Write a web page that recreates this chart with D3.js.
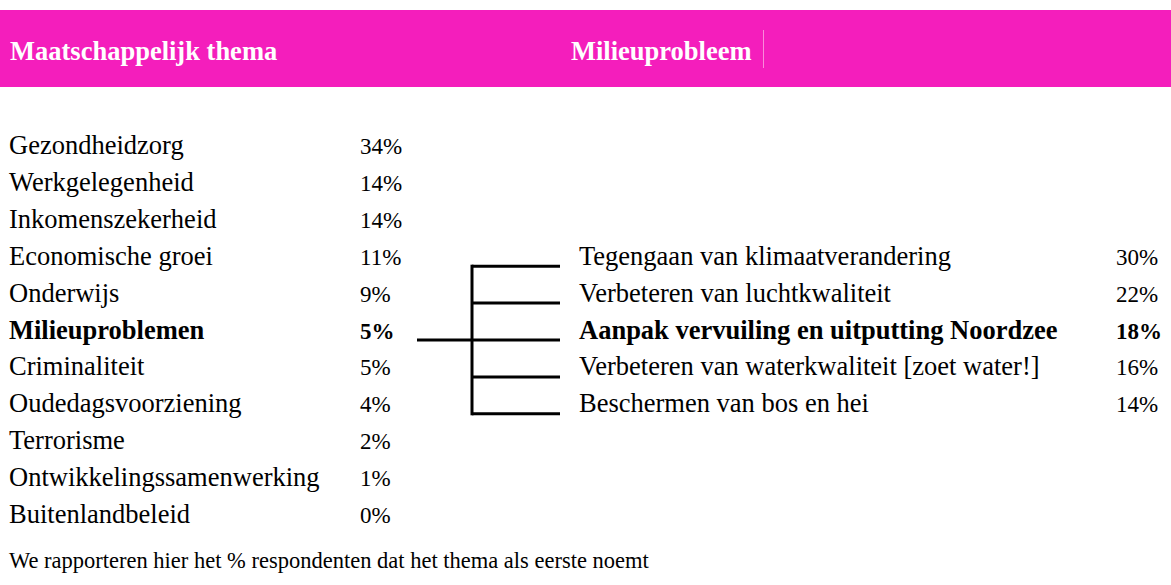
<!DOCTYPE html>
<html>
<head>
<meta charset="utf-8">
<script src="https://cdn.jsdelivr.net/npm/d3@7"></script>
<style>
  body { margin: 0; background: #fff; }
  text { font-family: "Liberation Serif", "Times New Roman", serif; }
</style>
</head>
<body>
<div id="chart"></div>
<script>
const width = 1171, height = 585;

// maatschappelijke thema's (linkerkolom)
const themes = ["Gezondheidzorg", "Werkgelegenheid", "Inkomenszekerheid", "Economische groei",
    "Onderwijs", "Milieuproblemen", "Criminaliteit", "Oudedagsvoorziening", "Terrorisme",
    "Ontwikkelingssamenwerking", "Buitenlandbeleid"];
const themeValues = [34, 14, 14, 11, 9, 5, 5, 4, 2, 1, 0];
const highlightTheme = "Milieuproblemen";

// milieuproblemen (rechterkolom)
const issues = ["Tegengaan van klimaatverandering", "Verbeteren van luchtkwaliteit",
    "Aanpak vervuiling en uitputting Noordzee", "Verbeteren van waterkwaliteit [zoet water!]",
    "Beschermen van bos en hei"];
const issueValues = [30, 22, 18, 16, 14];
const highlightIssue = "Aanpak vervuiling en uitputting Noordzee";

const headers = ["Maatschappelijk thema", "Milieuprobleem"];
const footnote = "We rapporteren hier het % respondenten dat het thema als eerste noemt";

const svg = d3.select("#chart").append("svg")
    .attr("width", width)
    .attr("height", height);

// header band
svg.append("rect")
    .attr("x", 0).attr("y", 10)
    .attr("width", width).attr("height", 77)
    .attr("fill", "#f41ebc");

svg.append("line")
    .attr("x1", 763.5).attr("x2", 763.5)
    .attr("y1", 30).attr("y2", 68)
    .attr("stroke", "#fa8ada").attr("stroke-width", 1);

svg.selectAll(".hdr")
    .data(headers)
    .join("text")
    .attr("class", "hdr")
    .attr("x", (d, i) => i === 0 ? 10 : 571)
    .attr("y", 60)
    .attr("fill", "#fff")
    .attr("font-weight", "bold")
    .attr("font-size", 26.5)
    .text(d => d);

// row baselines
const y = d3.scalePoint()
    .domain(d3.range(themes.length))
    .range([154, 523]);

const labelSize = 26.5;
const valueSize = 23;

const left = svg.append("g");
left.selectAll(".lab")
    .data(themes)
    .join("text")
    .attr("x", 9)
    .attr("y", (d, i) => y(i))
    .attr("font-size", labelSize)
    .attr("font-weight", d => d === highlightTheme ? "bold" : "normal")
    .text(d => d);

left.selectAll(".val")
    .data(themeValues)
    .join("text")
    .attr("x", 360)
    .attr("y", (d, i) => y(i))
    .attr("font-size", valueSize)
    .attr("font-weight", (d, i) => themes[i] === highlightTheme ? "bold" : "normal")
    .text(d => d + "%");

// right column sits on rows 4..8 of the left grid
const offset = 3;
const right = svg.append("g");
right.selectAll(".lab")
    .data(issues)
    .join("text")
    .attr("x", 579)
    .attr("y", (d, i) => y(i + offset))
    .attr("font-size", labelSize)
    .attr("font-weight", d => d === highlightIssue ? "bold" : "normal")
    .text(d => d);

right.selectAll(".val")
    .data(issueValues)
    .join("text")
    .attr("x", 1116)
    .attr("y", (d, i) => y(i + offset))
    .attr("font-size", valueSize)
    .attr("font-weight", (d, i) => issues[i] === highlightIssue ? "bold" : "normal")
    .text(d => d + "%");

// connector (bracket)
const hi = themes.indexOf(highlightTheme);
const lineY = i => y(i) + 1.5;
const conn = svg.append("g")
    .attr("stroke", "#000")
    .attr("stroke-width", 3)
    .attr("fill", "none");

conn.append("line")
    .attr("x1", 417).attr("x2", 472)
    .attr("y1", lineY(hi)).attr("y2", lineY(hi));

conn.append("line")
    .attr("x1", 472).attr("x2", 472)
    .attr("y1", lineY(offset) - 1.5).attr("y2", lineY(offset + issues.length - 1) + 1.5);

conn.selectAll(".branch")
    .data(issues)
    .join("line")
    .attr("x1", 472).attr("x2", 560)
    .attr("y1", (d, i) => lineY(i + offset))
    .attr("y2", (d, i) => lineY(i + offset));

svg.append("text")
    .attr("x", 9)
    .attr("y", 568)
    .attr("font-size", 22.5)
    .text(footnote);
</script>
</body>
</html>
